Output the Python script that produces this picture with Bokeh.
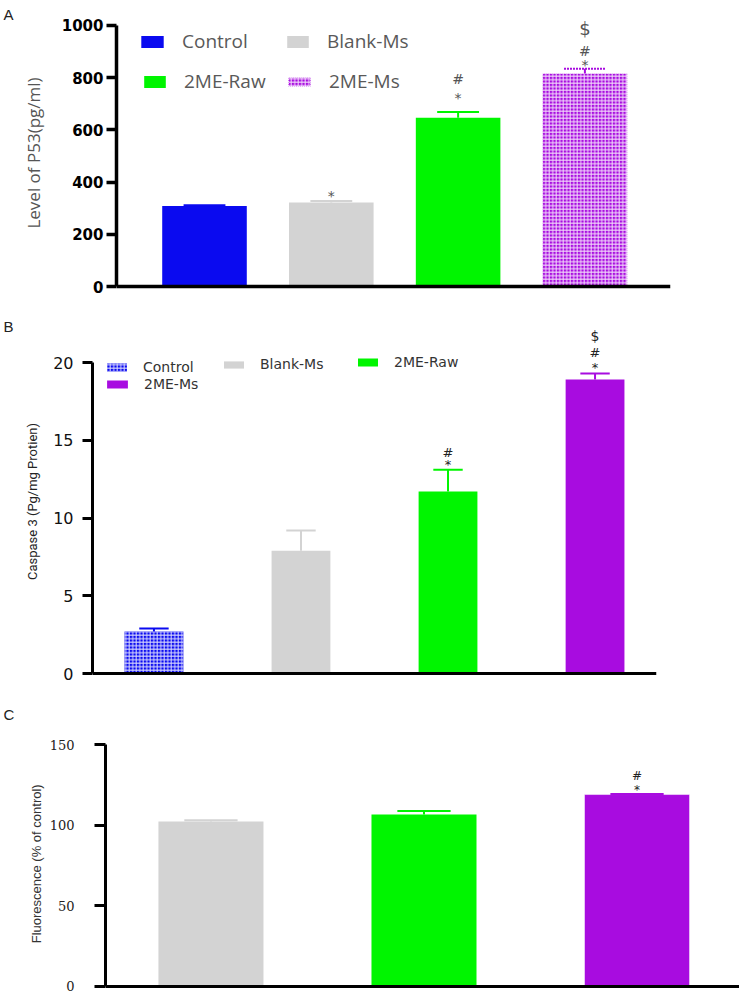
from bokeh.plotting import figure
from bokeh.models import ColumnDataSource, Range1d, Span, Label, Legend, LegendItem, FixedTicker
from bokeh.layouts import column, row
from bokeh.embed import file_html
from bokeh.resources import INLINE
from bokeh.core.properties import value

# ---------------- data ----------------
groups_A = ["Control", "Blank-Ms", "2ME-Raw", "2ME-Ms"]
p53_mean = [308, 322, 647, 816]
p53_sem = [3, 6, 22, 18]
p53_sig = ["", "*", "*#", "*#$"]
ticks_A = [0, 200, 400, 600, 800, 1000]

groups_B = ["Control", "Blank-Ms", "2ME-Raw", "2ME-Ms"]
casp3_mean = [2.7, 7.9, 11.7, 18.9]
casp3_sem = [0.2, 1.3, 1.4, 0.4]
casp3_sig = ["", "", "*#", "*#$"]
ticks_B = [0, 5, 10, 15, 20]

groups_C = ["Blank-Ms", "2ME-Raw", "2ME-Ms"]
fluor_mean = [102.3, 106.6, 119.0]
fluor_sem = [0.7, 2.2, 0.4]
fluor_sig = ["", "", "*#"]
ticks_C = [0, 50, 100, 150]

COL = {"Control": "#0a0af0", "Blank-Ms": "#d3d3d3", "2ME-Raw": "#00f500", "2ME-Ms": "#a80ce0"}

LW = 18          # width of the strip holding the panel letter
W = 739 - LW     # width of each chart


def letter_fig(letter, h, top):
    f = figure(width=LW, height=h, x_range=Range1d(0, 1), y_range=Range1d(0, 1),
               output_backend="svg", toolbar_location=None,
               x_axis_location=None, y_axis_location=None,
               min_border_left=0, min_border_right=0, min_border_top=0, min_border_bottom=0)
    f.grid.visible = False
    f.outline_line_color = None
    f.add_layout(Label(x=3, y=h - top, x_units="screen", y_units="screen", text=letter,
                       text_font="Liberation Sans", text_font_size="15px", text_color="#222",
                       text_baseline="top", text_align="left"))
    return f


def make_panel(groups, means, sems, sig, ticks, ylabel, c):
    p = figure(width=W, height=c["h"], x_range=Range1d(*c["xr"]), y_range=Range1d(*c["yr"]),
               output_backend="svg", toolbar_location=None,
               min_border_left=c["mbl"] - LW, min_border_right=c["mbr"],
               min_border_top=c["mbt"], min_border_bottom=c["mbb"])
    p.xaxis.visible = False
    p.grid.visible = False
    p.outline_line_color = None
    ax = p.yaxis[0]
    ax.ticker = FixedTicker(ticks=ticks)
    ax.bounds = (ticks[0], ticks[-1])
    ax.axis_line_width = c["alw"]
    ax.axis_line_color = "black"
    ax.major_tick_line_width = c["alw"]
    ax.major_tick_out = c["tick"]
    ax.major_tick_in = 0
    ax.minor_tick_out = 0
    ax.minor_tick_in = 0
    ax.major_label_text_font = c["tfont"]
    ax.major_label_text_font_size = c["tsize"]
    ax.major_label_text_font_style = c["tstyle"]
    ax.major_label_text_color = c["tcolor"]
    ax.major_label_standoff = c["tstand"]
    ax.axis_label = ylabel
    ax.axis_label_text_font = c["lfont"]
    ax.axis_label_text_font_size = c["lsize"]
    ax.axis_label_text_font_style = c["lstyle"]
    ax.axis_label_text_color = c["lcolor"]
    ax.axis_label_standoff = c["lstand"]

    p.add_layout(Span(location=0, dimension="width", line_color="black", line_width=c["alw"]))

    rends = {}
    for i, g in enumerate(groups):
        src = ColumnDataSource(dict(x=[i], top=[means[i]]))
        hp = c["hatch"].get(g, " ")
        edge = c["edge"].get(g)
        r = p.vbar(x="x", top="top", bottom=0, width=c["bw"], source=src,
                   fill_color=COL[g],
                   line_color="white" if edge else None, line_width=1,
                   line_dash="1 1" if edge else "solid",
                   hatch_pattern=hp, hatch_color="white", hatch_scale=3.5,
                   hatch_weight=1, hatch_alpha=0.85)
        rends[g] = r
        dash = c["dash"].get(g, "solid")
        up = means[i] + sems[i]
        p.segment(x0=[i], y0=[means[i]], x1=[i], y1=[up], line_color=COL[g], line_width=2)
        p.segment(x0=[i - c["cap"] / 2], y0=[up], x1=[i + c["cap"] / 2], y1=[up],
                  line_color=COL[g], line_width=2, line_dash=dash)
        offs = c["sigoff"][i]
        for ch, off in zip(sig[i], offs):
            size = c["sigsize"]
            if ch == "*":
                off += 2
            if ch == "$":
                size = c["dolsize"]
            p.text(x=[i], y=[up], text=[ch], y_offset=off, text_align="center",
                   text_baseline="middle", text_font=value("DejaVu Sans"),
                   text_font_size=size, text_color=c["sigcolor"])

    for g, (lx, ly, gw, gh) in c["legend"].items():
        lg = Legend(items=[LegendItem(label=g, renderers=[rends[g]])],
                    location=(lx, ly), orientation="horizontal",
                    border_line_color=None, background_fill_alpha=0,
                    padding=0, margin=0, spacing=0,
                    glyph_width=gw, glyph_height=gh, label_height=gh,
                    label_standoff=c["lgstand"],
                    label_text_font=c["lgfont"], label_text_font_size=c["lgsize"],
                    label_text_color=c["lgcolor"])
        p.add_layout(lg)
    return p


cfgA = dict(h=300, xr=(-0.694, 3.675), yr=(-15.3, 1038.3), mbl=113, mbr=69, mbt=15, mbb=10,
            alw=3.5, tick=10, tfont="DejaVu Sans", tsize="15px", tstyle="bold", tcolor="black",
            tstand=3, lfont="Open Sans", lsize="17px", lstyle="normal", lcolor="#555", lstand=14,
            bw=0.667, cap=0.33, hatch={"2ME-Ms": "+"}, dash={"2ME-Ms": "2 1"},
            edge={"2ME-Ms": True},
            sigoff=[[], [-7], [-16, -33], [-6, -18, -40]],
            sigsize="14px", dolsize="18px", sigcolor="#555",
            legend={"Control": (22, 236, 28, 15), "Blank-Ms": (168, 236, 27, 15),
                    "2ME-Raw": (25, 196, 27, 15), "2ME-Ms": (169, 196, 28, 11)},
            lgstand=16, lgfont="Open Sans", lgsize="19px", lgcolor="#595959")

cfgB = dict(h=390, xr=(-0.418, 3.418), yr=(-0.257, 22.38), mbl=92, mbr=83, mbt=25, mbb=13,
            alw=3, tick=10, tfont="DejaVu Sans", tsize="16px", tstyle="normal", tcolor="#111",
            tstand=9, lfont="Roboto", lsize="13px", lstyle="normal", lcolor="#222",
            lstand=10, bw=0.40, cap=0.2, hatch={"Control": "+"}, dash={}, edge={},
            sigoff=[[], [], [-7, -17], [-8, -21, -37]],
            sigsize="13px", dolsize="14px", sigcolor="#222",
            legend={"Control": (12, 302, 25, 10), "2ME-Ms": (12, 285, 26, 10),
                    "Blank-Ms": (129, 305, 25, 9), "2ME-Raw": (263, 307, 25, 10)},
            lgstand=14, lgfont="DejaVu Sans", lgsize="14px", lgcolor="#333")

cfgC = dict(h=304, xr=(-0.495, 2.481), yr=(-1.24, 155.6), mbl=105, mbr=0, mbt=45, mbb=6,
            alw=3, tick=11, tfont="DejaVu Serif", tsize="13px", tstyle="normal", tcolor="#222",
            tstand=20, lfont="Liberation Sans", lsize="13px", lstyle="normal", lcolor="#333",
            lstand=3, bw=0.493, cap=0.25, hatch={}, dash={}, edge={"2ME-Ms": True},
            sigoff=[[], [], [-6, -18]],
            sigsize="12px", dolsize="12px", sigcolor="#222",
            legend={}, lgstand=10, lgfont="DejaVu Sans", lgsize="12px", lgcolor="#333")

pA = make_panel(groups_A, p53_mean, p53_sem, p53_sig, ticks_A, "Level of P53(pg/ml)", cfgA)
pB = make_panel(groups_B, casp3_mean, casp3_sem, casp3_sig, ticks_B, "Caspase 3 (Pg/mg Protien)", cfgB)
pC = make_panel(groups_C, fluor_mean, fluor_sem, fluor_sig, ticks_C, "Fluorescence  (% of control)", cfgC)

lA = letter_fig("A", cfgA["h"], 5)
lB = letter_fig("B", cfgB["h"], 17)
lC = letter_fig("C", cfgC["h"], 15)

layout = column(row(column(lA), column(pA), spacing=0),
                row(column(lB), column(pB), spacing=0),
                row(column(lC), column(pC), spacing=0), spacing=0)
open("out.html", "w").write(file_html(layout, INLINE))
